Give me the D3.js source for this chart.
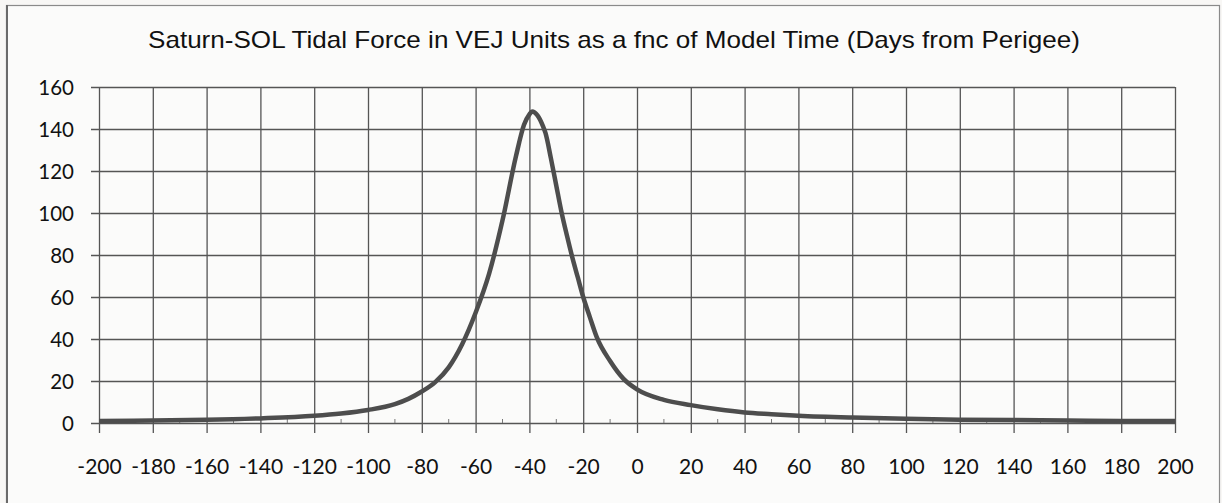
<!DOCTYPE html>
<html>
<head>
<meta charset="utf-8">
<script src="https://cdn.jsdelivr.net/npm/d3@7"></script>
<style>
    body { margin: 0; background: #f8f7f5; }
    svg { display: block; }
</style>
</head>
<body>
<script>
// Chart data
const titleText = 'Saturn-SOL Tidal Force in VEJ Units as a fnc of Model Time (Days from Perigee)';
const days = [-200, -180, -160, -140, -120, -110, -100, -90, -85, -80, -75, -70, -65, -60, -55, -50, -45, -42, -40, -39, -37, -35, -34, -32, -30, -28, -26, -24, -22, -20, -17.5, -15, -10, -5, 0, 10, 20, 30, 40, 50, 60, 80, 100, 120, 140, 160, 180, 200];
const force = [1.0, 1.2, 1.5, 2.2, 3.4, 4.5, 6.2, 9.0, 11.5, 15, 19.5, 26.5, 37.5, 52.5, 71, 96.5, 127, 142, 147, 148.3, 146.5, 141.5, 138, 126, 113, 100, 89, 78.6, 69.3, 60, 50.3, 41, 29.5, 21, 16, 11, 8.5, 6.5, 5.0, 4.2, 3.5, 2.6, 2.0, 1.6, 1.4, 1.2, 1.0, 1.0];
const xTicks = d3.range(-200, 201, 20);
const yTicks = d3.range(0, 161, 20);
const minorTicks = d3.range(-190, 200, 20);

const width = 1222, height = 503;
const plot = { left: 99, right: 1175, top: 87, bottom: 423 };

let svg = d3.select('body')
    .append('svg')
    .attr('width', width)
    .attr('height', height);

// Outer frame
svg.append('rect')
    .attr('x', 6.5)
    .attr('y', 5.5)
    .attr('width', 1213)
    .attr('height', 520)
    .attr('fill', '#fbfbfa')
    .attr('stroke', '#8a8a8a')
    .attr('stroke-width', 1.2);
svg.append('line')
    .attr('x1', 7).attr('x2', 7)
    .attr('y1', 5).attr('y2', height)
    .attr('stroke', '#6a6a6a')
    .attr('stroke-width', 2);

const x = d3.scaleLinear().domain([-200, 200]).range([plot.left, plot.right]);
const y = d3.scaleLinear().domain([0, 160]).range([plot.bottom, plot.top]);

// Title
svg.append('text')
    .attr('x', 614)
    .attr('y', 48)
    .attr('text-anchor', 'middle')
    .attr('font-family', 'Liberation Sans, Arial, sans-serif')
    .attr('font-size', 24)
    .attr('textLength', 932)
    .attr('lengthAdjust', 'spacingAndGlyphs')
    .attr('fill', '#111')
    .text(titleText);

// Horizontal grid + y axis
let yAxis = svg.append('g')
    .attr('transform', `translate(${plot.left}, 0)`)
    .call(d3.axisLeft(y).tickValues(yTicks).tickFormat(d => String(d)).tickSize(-(plot.right - plot.left)).tickSizeOuter(0));
yAxis.select('.domain').remove();
yAxis.selectAll('.tick line')
    .attr('x1', -8)
    .attr('stroke', '#555')
    .attr('stroke-width', 1.3);
yAxis.selectAll('.tick text')
    .attr('x', -25)
    .attr('dy', '0.36em')
    .attr('font-family', 'Lato, Calibri, sans-serif')
    .attr('font-size', 20.5)
    .attr('fill', '#111');

// Vertical grid + x axis
let xAxis = svg.append('g')
    .attr('transform', `translate(0, ${plot.bottom})`)
    .call(d3.axisBottom(x).tickValues(xTicks).tickFormat(d => String(d)).tickSize(10).tickSizeOuter(0));
xAxis.select('.domain').remove();
xAxis.selectAll('.tick line')
    .attr('y1', -(plot.bottom - plot.top))
    .attr('stroke', '#555')
    .attr('stroke-width', 1.3);
xAxis.selectAll('.tick text')
    .attr('y', 43)
    .attr('dy', '0.36em')
    .attr('font-family', 'Lato, Calibri, sans-serif')
    .attr('font-size', 21)
    .attr('fill', '#111');

// Minor ticks on the x axis
svg.append('g')
    .selectAll('line')
    .data(minorTicks)
    .enter()
    .append('line')
    .attr('x1', d => x(d)).attr('x2', d => x(d))
    .attr('y1', plot.bottom).attr('y2', plot.bottom - 4)
    .attr('stroke', '#777')
    .attr('stroke-width', 1);

// Curve
const line = d3.line()
    .x((d, i) => x(d))
    .y((d, i) => y(force[i]))
    .curve(d3.curveMonotoneX);

svg.append('path')
    .datum(days)
    .attr('d', line)
    .attr('fill', 'none')
    .attr('stroke', '#4d4d4d')
    .attr('stroke-width', 4.5)
    .attr('stroke-linejoin', 'round');
</script>
</body>
</html>
